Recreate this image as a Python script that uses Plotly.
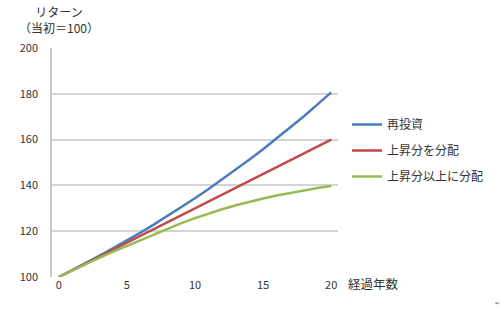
import plotly.graph_objects as go

years = list(range(0, 21))
reinvest = [100, 103.0, 106.1, 109.3, 112.6, 115.9, 119.4, 123.0, 126.7, 130.5, 134.4,
            138.4, 142.6, 146.9, 151.3, 155.8, 160.5, 165.3, 170.2, 175.4, 180.6]
dist_gain = [100, 103, 106, 109, 112, 115, 118, 121, 124, 127, 130,
             133, 136, 139, 142, 145, 148, 151, 154, 157, 160]
dist_more = [100, 102.9, 105.8, 108.5, 111.1, 113.6, 116.1, 118.6, 121.1, 123.5, 125.7,
             127.7, 129.6, 131.3, 132.9, 134.3, 135.6, 136.8, 137.9, 138.9, 139.7]
names = ["再投資", "上昇分を分配", "上昇分以上に分配"]
colors = ["#4A7EBB", "#BE4B48", "#98B954"]
y_ticks = [100, 120, 140, 160, 180, 200]
x_ticks = [0, 5, 10, 15, 20]
y_title = "リターン<br>（当初＝100）"
x_title = "経過年数"

FONT = "Noto Sans CJK JP, sans-serif"
PW = 286  # plot width in px
fig = go.Figure()
for i, (n, s) in enumerate(zip(names, [reinvest, dist_gain, dist_more])):
    fig.add_trace(go.Scatter(x=years, y=s, mode="lines", name=n,
                             legendgroup=str(i),
                             line=dict(color=colors[i], width=2.5)))

fig.update_layout(
    width=500, height=310,
    margin=dict(l=52, r=162, t=48, b=33, autoexpand=False),
    paper_bgcolor="white", plot_bgcolor="white",
    font=dict(family=FONT, size=11, color="#333333"),
    showlegend=True,
    legend=dict(x=(347 - 52) / PW, y=1 - (110 - 48) / 229, xanchor="left", yanchor="top",
                font=dict(size=12, color="#333333"),
                tracegroupgap=7, itemwidth=30, bgcolor="rgba(0,0,0,0)"),
    xaxis=dict(range=[-0.5, 20.5], tickvals=x_ticks, showgrid=False,
               zeroline=False, showline=False, ticks="",
               tickfont=dict(size=11, family=FONT)),
    yaxis=dict(range=[100, 200], tickvals=y_ticks, showgrid=True,
               gridcolor="#D4D4D4", gridwidth=1.5, zeroline=False,
               showline=True, linecolor="#C8C8C8", linewidth=1.5,
               ticks="", ticklabelstandoff=10,
               tickfont=dict(size=11, family=FONT)),
)
fig.add_annotation(text=y_title, xref="paper", yref="paper", x=(18 - 52) / PW,
                   y=1 + (48 - 19.5) / 229, xanchor="left", yanchor="middle",
                   align="center", showarrow=False, borderpad=0,
                   font=dict(size=12, family=FONT, color="#333333"))
fig.add_annotation(text=x_title, xref="paper", yref="paper", x=(346 - 52) / PW,
                   y=-(283 - 277) / 229, xanchor="left", yanchor="middle",
                   showarrow=False, font=dict(size=12.5, family=FONT, color="#333333"))
fig.add_annotation(text="↵", xref="paper", yref="paper", x=(497 - 52) / PW,
                   y=-(302 - 277) / 229, xanchor="center", yanchor="middle",
                   showarrow=False, font=dict(size=6, family=FONT, color="#666666"))
fig.write_html("out.html")
